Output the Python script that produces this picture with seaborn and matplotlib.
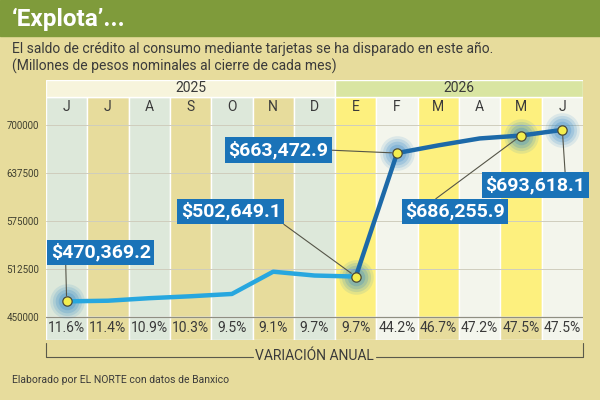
import numpy as np
import pandas as pd
import matplotlib
matplotlib.use('Agg')
import matplotlib.pyplot as plt
from matplotlib.lines import Line2D
from matplotlib.patches import Rectangle
import seaborn as sns

# datos
meses = ['J', 'J', 'A', 'S', 'O', 'N', 'D', 'E', 'F', 'M', 'A', 'M', 'J']
anios = ['2025'] * 7 + ['2026'] * 6
saldo = [470369.2, 471200, 474500, 477000, 480000, 509000, 504000,
         502649.1, 663472.9, 673500, 682500, 686255.9, 693618.1]
variacion = [11.6, 11.4, 10.9, 10.3, 9.5, 9.1, 9.7, 9.7, 44.2, 46.7, 47.2, 47.5, 47.5]
yticks = [450000, 512500, 575000, 637500, 700000]
destacados = [0, 7, 8, 11, 12]

# colores
BG = '#e7dc9c'
VERDE = '#7f9b3b'
MENTA = '#dde8da'
AMARILLO = '#fdf07e'
BLANCO = '#f3f5ec'
AZUL_CLARO = '#27a7df'
AZUL_OSC = '#1c69a8'
CAJA = '#1a73b8'
TXT = '#3a3a3a'

sns.set_style('white')
plt.rcParams['font.family'] = ['Roboto', 'DejaVu Sans']

df = pd.DataFrame({'pos': np.arange(len(meses)), 'mes': meses, 'anio': anios,
                   'saldo': saldo, 'var': variacion})

fig = plt.figure(figsize=(6, 4), dpi=100, facecolor=BG)

# banda de titulo
fig.add_artist(Rectangle((0, 1 - 36 / 400), 1, 36 / 400, transform=fig.transFigure,
                         color=VERDE, zorder=0))
fig.text(12 / 600, 1 - 19 / 400, '\u2018Explota\u2019...', color='white', fontsize=17.5,
         fontweight='bold', va='center')
fig.text(12 / 600, 1 - 49 / 400, 'El saldo de crédito al consumo mediante tarjetas se ha disparado en este año.',
         color=TXT, fontsize=10, va='center')
fig.text(12 / 600, 1 - 66 / 400, '(Millones de pesos nominales al cierre de cada mes)',
         color=TXT, fontsize=10, va='center')
fig.text(12 / 600, 1 - 380 / 400, 'Elaborado por EL NORTE con datos de Banxico',
         color=TXT, fontsize=7.5, va='center')

# ejes: 450000 en y=317px, 700000 en y=125px
px = 250000 / 192
ymin = 450000 - 23 * px
ytop_cols = 700000 + 28 * px
ymax = 700000 + 45 * px
ax = fig.add_axes([46 / 600, 60 / 400, 537 / 600, 260 / 400])
ax.set_facecolor(BG)
ax.set_xlim(-0.5, len(meses) - 0.5)
ax.set_ylim(ymin, ymax)

# franjas de columnas
col_sup, col_inf = [], []
for i, a in enumerate(anios):
    if a == '2025':
        c = MENTA if i % 2 == 0 else BG
        col_sup.append(c)
        col_inf.append(c)
    else:
        c = AMARILLO if (i - 7) % 2 == 0 else BLANCO
        col_sup.append(c)
        col_inf.append(BG if c == AMARILLO else BLANCO)
ax.bar(df['pos'], ytop_cols - 450000, bottom=450000, width=1, color=col_sup, zorder=0)
ax.bar(df['pos'], 450000 - ymin, bottom=ymin, width=1, color=col_inf, zorder=0)

# encabezado de años
ax.bar([3, 9.5], ymax - ytop_cols, bottom=ytop_cols, width=[7, 6],
       color=['#f7f4dc', '#d9e5a2'], zorder=0)
ax.text(3, (ymax + ytop_cols) / 2, '2025', ha='center', va='center', fontsize=10, color=TXT)
ax.text(9.5, (ymax + ytop_cols) / 2, '2026', ha='center', va='center', fontsize=10, color=TXT)

for i, m in enumerate(meses):
    ax.text(i, ytop_cols - 10 * px, m, ha='center', va='center', fontsize=10, color=TXT)
    ax.text(i, 450000 - 11 * px, f'{variacion[i]:.1f}%', ha='center', va='center',
            fontsize=10, color=TXT)

# rejilla
for t in yticks[1:]:
    ax.axhline(t, color='#cfcdbd', lw=0.7, zorder=1)
ax.axhline(450000, color='#8f8f82', lw=0.9, zorder=1)
ax.set_yticks(yticks)
ax.set_yticklabels([str(t) for t in yticks])
ax.set_xticks([])
ax.tick_params(axis='y', length=0, pad=5, labelsize=7, labelcolor='#404030')
for s in ax.spines.values():
    s.set_visible(False)

# linea
sns.lineplot(data=df.iloc[:8], x='pos', y='saldo', color=AZUL_CLARO, lw=3.2, ax=ax,
             zorder=3, solid_capstyle='round')
sns.lineplot(data=df.iloc[7:], x='pos', y='saldo', color=AZUL_OSC, lw=3.2, ax=ax,
             zorder=3, solid_capstyle='round')

# halos y puntos
dest = df.iloc[destacados]
for s, a in [(620, 0.12), (440, 0.16), (290, 0.2), (160, 0.25)]:
    ax.scatter(dest['pos'], dest['saldo'], s=s, color='#2f86c9', alpha=a, lw=0, zorder=2)
sns.scatterplot(data=dest, x='pos', y='saldo', s=45, color='#f4ee4e', edgecolor='#4a4a3a',
                linewidth=0.9, ax=ax, zorder=5)
ax.set_xlabel('')
ax.set_ylabel('')

# etiquetas: desplazamiento en pixeles y punto de salida del conector
etiquetas = {0: ((34, 49), (0.15, 0)), 7: ((-125, 65), (0.97, 0.05)),
             8: ((-119, 3), (1, 0.5)), 11: ((-66, -76), (0.26, 1)),
             12: ((-27, -55), (0.8, 1))}
for i, (off, rel) in etiquetas.items():
    ax.annotate(f'${saldo[i]:,.1f}', xy=(i, saldo[i]), xytext=off, textcoords='offset pixels',
                ha='center', va='center', color='white', fontsize=14, fontweight='bold',
                family=['Liberation Sans Narrow', 'Roboto'],
                bbox=dict(boxstyle='square,pad=0.18', fc=CAJA, ec='none'),
                arrowprops=dict(arrowstyle='-', color='#555548', lw=0.8, relpos=rel,
                                shrinkA=0, shrinkB=4),
                zorder=6)

# corchete de variacion anual
def fx(x):
    return x / 600

def fy(y):
    return 1 - y / 400

fig.add_artist(Line2D([fx(46), fx(46), fx(253)], [fy(343), fy(357), fy(357)],
                      color='#5a5a4a', lw=0.8))
fig.add_artist(Line2D([fx(376), fx(583), fx(583)], [fy(357), fy(357), fy(343)],
                      color='#5a5a4a', lw=0.8))
fig.text(fx(314.5), fy(356), 'VARIACIÓN ANUAL', ha='center', va='center', fontsize=10, color=TXT)

fig.savefig('out.png', dpi=100, facecolor=BG)
